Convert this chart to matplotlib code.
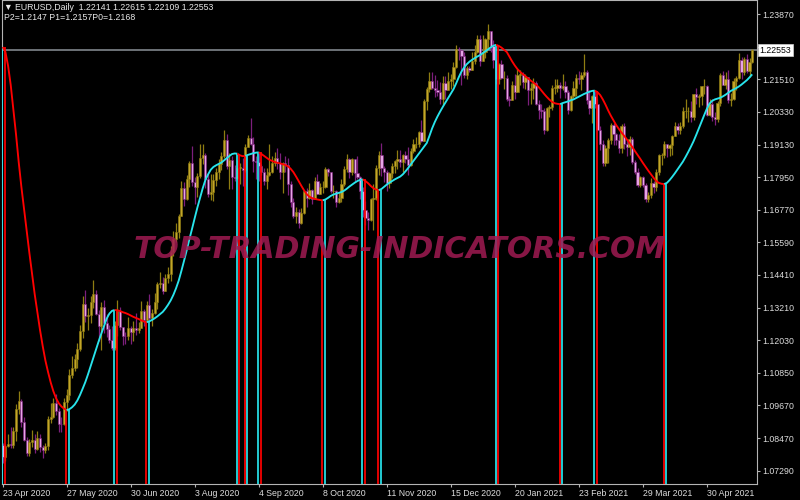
import matplotlib
matplotlib.use("Agg")
import matplotlib.pyplot as plt
import numpy as np
from matplotlib.transforms import blended_transform_factory

plt.rcParams['font.family'] = ['Liberation Sans', 'DejaVu Sans']

# ---------------- data (EURUSD daily, 23 Apr 2020 .. 25 May 2021) ----------------
first_open = 1.0823
closes = [
    1.0781, 1.0820, 1.0827, 1.0822, 1.0873, 1.0955, 1.0981, 1.0908, 1.0841, 1.0795, 1.0834, 1.0840,
    1.0808, 1.0850, 1.0816, 1.0805, 1.0820, 1.0917, 1.0924, 1.0977, 1.0946, 1.0901, 1.0898, 1.0979,
    1.1005, 1.1077, 1.1101, 1.1134, 1.1171, 1.1236, 1.1336, 1.1290, 1.1294, 1.1341, 1.1372, 1.1300,
    1.1256, 1.1325, 1.1264, 1.1244, 1.1204, 1.1176, 1.1258, 1.1309, 1.1251, 1.1220, 1.1219, 1.1246,
    1.1233, 1.1249, 1.1240, 1.1246, 1.1309, 1.1275, 1.1331, 1.1285, 1.1301, 1.1341, 1.1407, 1.1411,
    1.1383, 1.1429, 1.1444, 1.1525, 1.1570, 1.1595, 1.1655, 1.1755, 1.1717, 1.1790, 1.1846, 1.1778,
    1.1761, 1.1800, 1.1864, 1.1877, 1.1787, 1.1735, 1.1740, 1.1785, 1.1814, 1.1841, 1.1870, 1.1930,
    1.1835, 1.1859, 1.1796, 1.1793, 1.1830, 1.1830, 1.1822, 1.1905, 1.1936, 1.1915, 1.1855, 1.1850,
    1.1836, 1.1815, 1.1780, 1.1802, 1.1815, 1.1845, 1.1865, 1.1845, 1.1815, 1.1845, 1.1840, 1.1770,
    1.1705, 1.1655, 1.1670, 1.1630, 1.1665, 1.1745, 1.1720, 1.1750, 1.1715, 1.1780, 1.1735, 1.1760,
    1.1760, 1.1825, 1.1815, 1.1745, 1.1745, 1.1705, 1.1720, 1.1770, 1.1825, 1.1860, 1.1815, 1.1860,
    1.1810, 1.1795, 1.1745, 1.1675, 1.1645, 1.1640, 1.1715, 1.1720, 1.1830, 1.1875, 1.1830, 1.1815,
    1.1775, 1.1810, 1.1835, 1.1855, 1.1860, 1.1850, 1.1875, 1.1860, 1.1840, 1.1890, 1.1915, 1.1915,
    1.1960, 1.1925, 1.2070, 1.2115, 1.2145, 1.2120, 1.2110, 1.2105, 1.2080, 1.2135, 1.2110, 1.2145,
    1.2150, 1.2195, 1.2260, 1.2255, 1.2235, 1.2165, 1.2190, 1.2185, 1.2215, 1.2250, 1.2295, 1.2215,
    1.2250, 1.2295, 1.2325, 1.2270, 1.2220, 1.2150, 1.2205, 1.2155, 1.2155, 1.2080, 1.2075, 1.2130,
    1.2105, 1.2165, 1.2170, 1.2140, 1.2160, 1.2110, 1.2120, 1.2135, 1.2060, 1.2040, 1.2035, 1.1965,
    1.2045, 1.2050, 1.2120, 1.2120, 1.2130, 1.2120, 1.2125, 1.2105, 1.2040, 1.2090, 1.2120, 1.2155,
    1.2150, 1.2165, 1.2175, 1.2075, 1.2045, 1.2090, 1.2060, 1.1965, 1.1915, 1.1845, 1.1900, 1.1930,
    1.1985, 1.1950, 1.1930, 1.1900, 1.1980, 1.1915, 1.1905, 1.1935, 1.1850, 1.1815, 1.1765, 1.1795,
    1.1765, 1.1715, 1.1730, 1.1775, 1.1760, 1.1815, 1.1875, 1.1875, 1.1915, 1.1900, 1.1910, 1.1945,
    1.1980, 1.1965, 1.1980, 1.2035, 1.2035, 1.2035, 1.2015, 1.2095, 1.2085, 1.2090, 1.2125, 1.2125,
    1.2020, 1.2060, 1.2015, 1.2005, 1.2065, 1.2165, 1.2130, 1.2150, 1.2075, 1.2080, 1.2145, 1.2155,
    1.2220, 1.2175, 1.2225, 1.2180, 1.2214, 1.22553]

highs = [
    1.0829, 1.0828, 1.0864, 1.0890, 1.0888, 1.0973, 1.1019, 1.0990, 1.0923, 1.0853, 1.0845, 1.0879,
    1.0862, 1.0873, 1.0864, 1.0822, 1.0829, 1.0929, 1.0976, 1.0994, 1.1007, 1.0959, 1.0925, 1.0994,
    1.1028, 1.1098, 1.1147, 1.1153, 1.1194, 1.1257, 1.1362, 1.1384, 1.1319, 1.1362, 1.1422, 1.1387,
    1.1314, 1.1343, 1.1351, 1.1297, 1.1259, 1.1256, 1.1272, 1.1349, 1.1323, 1.1252, 1.1234, 1.1286,
    1.1255, 1.1274, 1.1302, 1.1268, 1.1346, 1.1315, 1.1344, 1.1371, 1.1318, 1.1375, 1.1413, 1.1452,
    1.1432, 1.1443, 1.1468, 1.1546, 1.1601, 1.1627, 1.1660, 1.1781, 1.1777, 1.1804, 1.1852, 1.1908,
    1.1795, 1.1809, 1.1916, 1.1917, 1.1884, 1.1808, 1.1805, 1.1805, 1.1829, 1.1862, 1.1885, 1.1966,
    1.1951, 1.1883, 1.1871, 1.1840, 1.1859, 1.1846, 1.1866, 1.1916, 1.1947, 1.2011, 1.1939, 1.1873,
    1.1883, 1.1843, 1.1828, 1.1830, 1.1917, 1.1871, 1.1887, 1.1900, 1.1883, 1.1850, 1.1872, 1.1866,
    1.1782, 1.1720, 1.1688, 1.1679, 1.1682, 1.1750, 1.1754, 1.1773, 1.1752, 1.1797, 1.1806, 1.1775,
    1.1781, 1.1831, 1.1829, 1.1815, 1.1765, 1.1750, 1.1740, 1.1790, 1.1837, 1.1880, 1.1865, 1.1866,
    1.1860, 1.1870, 1.1799, 1.1760, 1.1710, 1.1670, 1.1720, 1.1770, 1.1838, 1.1891, 1.1920, 1.1836,
    1.1820, 1.1815, 1.1845, 1.1858, 1.1893, 1.1892, 1.1880, 1.1891, 1.1905, 1.1899, 1.1935, 1.1942,
    1.1964, 1.2003, 1.2077, 1.2122, 1.2176, 1.2177, 1.2167, 1.2149, 1.2139, 1.2163, 1.2162, 1.2176,
    1.2171, 1.2212, 1.2273, 1.2268, 1.2258, 1.2250, 1.2197, 1.2198, 1.2250, 1.2276, 1.2310, 1.2310,
    1.2310, 1.2300, 1.2349, 1.2326, 1.2291, 1.2223, 1.2210, 1.2219, 1.2180, 1.2164, 1.2090, 1.2145,
    1.2170, 1.2189, 1.2183, 1.2176, 1.2169, 1.2160, 1.2137, 1.2155, 1.2143, 1.2074, 1.2059, 1.2045,
    1.2051, 1.2057, 1.2128, 1.2150, 1.2150, 1.2141, 1.2169, 1.2144, 1.2110, 1.2092, 1.2144, 1.2168,
    1.2181, 1.2175, 1.2243, 1.2185, 1.2113, 1.2093, 1.2113, 1.2078, 1.1980, 1.1931, 1.1910, 1.1937,
    1.1990, 1.1990, 1.1957, 1.1951, 1.1989, 1.1990, 1.1935, 1.1943, 1.1940, 1.1857, 1.1829, 1.1800,
    1.1800, 1.1774, 1.1742, 1.1793, 1.1782, 1.1826, 1.1880, 1.1883, 1.1927, 1.1914, 1.1915, 1.1949,
    1.1994, 1.1991, 1.1994, 1.2049, 1.2080, 1.2048, 1.2071, 1.2097, 1.2117, 1.2095, 1.2127, 1.2150,
    1.2130, 1.2077, 1.2077, 1.2030, 1.2070, 1.2172, 1.2181, 1.2178, 1.2183, 1.2101, 1.2154, 1.2161,
    1.2245, 1.2230, 1.2230, 1.2243, 1.2226, 1.22615]

lows = [
    1.0757, 1.0766, 1.0815, 1.0812, 1.0813, 1.0839, 1.0937, 1.0888, 1.0839, 1.0782, 1.0783, 1.0817,
    1.0794, 1.0806, 1.0796, 1.0775, 1.0794, 1.0806, 1.0904, 1.0921, 1.0931, 1.0871, 1.0871, 1.0896,
    1.0945, 1.0985, 1.1068, 1.1090, 1.1103, 1.1165, 1.1212, 1.1270, 1.1240, 1.1267, 1.1322, 1.1294,
    1.1200, 1.1167, 1.1230, 1.1216, 1.1194, 1.1168, 1.1167, 1.1217, 1.1241, 1.1187, 1.1190, 1.1204,
    1.1190, 1.1199, 1.1223, 1.1228, 1.1248, 1.1254, 1.1268, 1.1275, 1.1254, 1.1297, 1.1315, 1.1393,
    1.1371, 1.1389, 1.1410, 1.1420, 1.1508, 1.1558, 1.1576, 1.1655, 1.1692, 1.1711, 1.1761, 1.1763,
    1.1696, 1.1723, 1.1792, 1.1841, 1.1754, 1.1722, 1.1711, 1.1710, 1.1763, 1.1789, 1.1820, 1.1863,
    1.1826, 1.1753, 1.1753, 1.1780, 1.1788, 1.1771, 1.1762, 1.1812, 1.1904, 1.1912, 1.1812, 1.1789,
    1.1781, 1.1801, 1.1766, 1.1753, 1.1798, 1.1810, 1.1836, 1.1824, 1.1789, 1.1737, 1.1812, 1.1730,
    1.1686, 1.1648, 1.1627, 1.1612, 1.1625, 1.1660, 1.1685, 1.1715, 1.1696, 1.1716, 1.1734, 1.1733,
    1.1738, 1.1757, 1.1800, 1.1737, 1.1721, 1.1688, 1.1700, 1.1705, 1.1762, 1.1815, 1.1793, 1.1803,
    1.1782, 1.1790, 1.1716, 1.1650, 1.1622, 1.1603, 1.1636, 1.1602, 1.1712, 1.1802, 1.1800, 1.1777,
    1.1746, 1.1755, 1.1793, 1.1809, 1.1823, 1.1832, 1.1815, 1.1848, 1.1802, 1.1837, 1.1883, 1.1900,
    1.1905, 1.1923, 1.1925, 1.2040, 1.2105, 1.2114, 1.2085, 1.2090, 1.2059, 1.2058, 1.2079, 1.2110,
    1.2114, 1.2125, 1.2190, 1.2220, 1.2129, 1.2153, 1.2152, 1.2175, 1.2185, 1.2207, 1.2244, 1.2197,
    1.2218, 1.2228, 1.2264, 1.2250, 1.2192, 1.2133, 1.2132, 1.2150, 1.2115, 1.2073, 1.2054, 1.2074,
    1.2079, 1.2110, 1.2130, 1.2118, 1.2116, 1.2058, 1.2059, 1.2080, 1.2055, 1.2006, 1.2011, 1.1952,
    1.1962, 1.2015, 1.2039, 1.2098, 1.2104, 1.2084, 1.2110, 1.2081, 1.2023, 1.2035, 1.2081, 1.2091,
    1.2133, 1.2110, 1.2160, 1.2062, 1.2024, 1.1992, 1.2046, 1.1962, 1.1892, 1.1836, 1.1835, 1.1847,
    1.1917, 1.1912, 1.1910, 1.1882, 1.1883, 1.1897, 1.1873, 1.1875, 1.1842, 1.1805, 1.1760, 1.1761,
    1.1760, 1.1704, 1.1704, 1.1719, 1.1737, 1.1743, 1.1803, 1.1838, 1.1865, 1.1869, 1.1870, 1.1876,
    1.1943, 1.1952, 1.1950, 1.1975, 1.2010, 1.1996, 1.1995, 1.2001, 1.2060, 1.2048, 1.2055, 1.2097,
    1.2016, 1.2016, 1.1999, 1.1985, 1.1995, 1.2052, 1.2129, 1.2115, 1.2063, 1.2052, 1.2075, 1.2113,
    1.2151, 1.2152, 1.2164, 1.2172, 1.2160, 1.22109]

# smoothed moving-average indicator line
ma = [
    1.2267, 1.2250, 1.2200, 1.2130, 1.2040, 1.1950, 1.1850, 1.1760, 1.1680, 1.1600, 1.1520, 1.1445,
    1.1370, 1.1305, 1.1240, 1.1182, 1.1130, 1.1088, 1.1050, 1.1018, 1.0993, 1.0975, 1.0963, 1.0955,
    1.0950, 1.0953, 1.0960, 1.0970, 1.0985, 1.1005, 1.1028, 1.1052, 1.1080, 1.1110, 1.1140, 1.1170,
    1.1200, 1.1228, 1.1255, 1.1282, 1.1300, 1.1310, 1.1313, 1.1312, 1.1309, 1.1305, 1.1302, 1.1298,
    1.1293, 1.1288, 1.1284, 1.1280, 1.1275, 1.1271, 1.1269, 1.1272, 1.1277, 1.1283, 1.1290, 1.1298,
    1.1306, 1.1318, 1.1332, 1.1348, 1.1368, 1.1392, 1.1420, 1.1455, 1.1492, 1.1530, 1.1570, 1.1608,
    1.1647, 1.1685, 1.1720, 1.1755, 1.1785, 1.1805, 1.1822, 1.1832, 1.1838, 1.1843, 1.1848, 1.1856,
    1.1864, 1.1872, 1.1879, 1.1881, 1.1880, 1.1874, 1.1871, 1.1872, 1.1876, 1.1879, 1.1882, 1.1884,
    1.1885, 1.1879, 1.1872, 1.1865, 1.1858, 1.1854, 1.1850, 1.1847, 1.1845, 1.1842, 1.1839, 1.1834,
    1.1825, 1.1813, 1.1797, 1.1780, 1.1763, 1.1747, 1.1733, 1.1724, 1.1719, 1.1716, 1.1714, 1.1712,
    1.1711, 1.1714, 1.1720, 1.1727, 1.1732, 1.1735, 1.1738, 1.1741, 1.1746, 1.1753, 1.1761, 1.1768,
    1.1775, 1.1781, 1.1785, 1.1787, 1.1781, 1.1773, 1.1763, 1.1755, 1.1750, 1.1748, 1.1752, 1.1760,
    1.1768, 1.1775, 1.1781, 1.1787, 1.1792, 1.1797, 1.1805, 1.1816, 1.1828, 1.1841, 1.1854, 1.1867,
    1.1880, 1.1893, 1.1906, 1.1919, 1.1945, 1.1972, 1.1995, 1.2015, 1.2033, 1.2050, 1.2066, 1.2082,
    1.2098, 1.2114, 1.2135, 1.2158, 1.2178, 1.2193, 1.2205, 1.2214, 1.2221, 1.2227, 1.2233, 1.2238,
    1.2245, 1.2252, 1.2259, 1.2266, 1.2272, 1.2275, 1.2271, 1.2265, 1.2257, 1.2249, 1.2232, 1.2215,
    1.2200, 1.2187, 1.2177, 1.2169, 1.2161, 1.2153, 1.2145, 1.2138, 1.2130, 1.2121, 1.2109, 1.2097,
    1.2086, 1.2076, 1.2068, 1.2063, 1.2061, 1.2060, 1.2064, 1.2067, 1.2070, 1.2074, 1.2077, 1.2082,
    1.2087, 1.2092, 1.2097, 1.2101, 1.2105, 1.2108, 1.2109, 1.2103, 1.2093, 1.2077, 1.2058, 1.2037,
    1.2018, 1.2001, 1.1984, 1.1970, 1.1957, 1.1945, 1.1932, 1.1919, 1.1905, 1.1890, 1.1876, 1.1862,
    1.1847, 1.1833, 1.1819, 1.1806, 1.1793, 1.1781, 1.1774, 1.1771, 1.1770, 1.1774, 1.1784, 1.1796,
    1.1809, 1.1823, 1.1837, 1.1851, 1.1868, 1.1886, 1.1905, 1.1925, 1.1948, 1.1972, 1.1996, 1.2020,
    1.2043, 1.2062, 1.2072, 1.2077, 1.2080, 1.2083, 1.2088, 1.2094, 1.2101, 1.2108, 1.2113, 1.2118,
    1.2124, 1.2131, 1.2139, 1.2147, 1.2157, 1.2168]

# bars where the indicator changes direction (first segment falls)
turns = [0, 24, 42, 54, 88, 91, 96, 120, 135, 141, 185, 209, 222, 248]

price_ticks = [1.23870, 1.22690, 1.21510, 1.20330, 1.19130, 1.17950, 1.16770, 1.15590,
               1.14410, 1.13210, 1.12030, 1.10850, 1.09670, 1.08470, 1.07290]
date_labels = ["23 Apr 2020", "27 May 2020", "30 Jun 2020", "3 Aug 2020", "4 Sep 2020",
               "8 Oct 2020", "11 Nov 2020", "15 Dec 2020", "20 Jan 2021", "23 Feb 2021",
               "29 Mar 2021", "30 Apr 2021"]
label_step = 24
last_price = 1.22553
header1 = "\u25BC EURUSD,Daily  1.22141 1.22615 1.22109 1.22553"
header2 = "P2=1.2147 P1=1.2157P0=1.2168"
watermark = "TOP-TRADING-INDICATORS.COM"

# ---------------- drawing ----------------
W, H = 800, 500
fig = plt.figure(figsize=(W / 100, H / 100), dpi=100, facecolor='black')
ax = fig.add_axes([1.5 / W, 16 / H, 755.5 / W, 484 / H], facecolor='black')

c = np.array(closes)
o = np.array([first_open] + closes[:-1])
hi = np.maximum(np.array(highs), np.maximum(o, c))
lo = np.minimum(np.array(lows), np.minimum(o, c))
x = np.arange(len(c))
bull = c >= o

BULL_EDGE, BULL_FILL = '#8f7d12', '#c4a628'
BEAR_EDGE, BEAR_FILL = '#7c1f7c', '#e6a4e6'
RED, CYAN = '#ff0000', '#28e4ec'

ylo, yhi = 1.06816, 1.24378
ax.set_xlim(-0.45, 282.8)
ax.set_ylim(ylo, yhi)

ax.axhline(last_price, color='#80868c', lw=1.2, zorder=1)

ax.vlines(x, lo, hi, colors=np.where(bull, BULL_EDGE, BEAR_EDGE), lw=0.9, zorder=2)
body_h = np.maximum(np.abs(c - o), 0.00008)
ax.bar(x, body_h, bottom=np.minimum(o, c), width=0.8,
       color=np.where(bull, BULL_FILL, BEAR_FILL),
       edgecolor=np.where(bull, BULL_EDGE, BEAR_EDGE), linewidth=0.4, zorder=3)

ma_arr = np.array(ma)
bounds = turns + [len(ma) - 1]
for k in range(len(turns)):
    a, b = bounds[k], bounds[k + 1]
    col = RED if k % 2 == 0 else CYAN
    old = CYAN if k % 2 == 0 else RED
    ax.plot(x[a:b + 1], ma_arr[a:b + 1], color=col, lw=1.35, zorder=5,
            solid_capstyle='butt')
    t = turns[k]
    ax.vlines(t - 0.15, ylo, ma_arr[t], colors=old, lw=1.25, zorder=4)
    ax.vlines(t + 0.75, ylo, ma_arr[t], colors=col, lw=1.25, zorder=4)

for s in ax.spines.values():
    s.set_color('#b4b4b4')
    s.set_linewidth(0.8)

ax.yaxis.tick_right()
ax.set_yticks(price_ticks)
# the 1.22690 label sits under the current-price box, as in the original
ax.set_yticklabels(["" if abs(v - 1.22690) < 1e-6 else f"{v:.5f}" for v in price_ticks])
ax.tick_params(axis='y', colors='#b4b4b4', labelcolor='#dcdcdc', length=2.5,
               width=0.8, pad=1.5, labelsize=6.3)
ax.set_xticks(np.arange(len(date_labels)) * label_step)
ax.set_xticklabels(date_labels)
ax.tick_params(axis='x', colors='#b4b4b4', labelcolor='#dcdcdc', length=2.5,
               width=0.8, pad=1.0, labelsize=6.3)
for lbl in ax.get_xticklabels():
    lbl.set_ha('left')

tr = blended_transform_factory(ax.transAxes, ax.transData)
ax.text(1.0 + 2.5 / 755.5, last_price, f"{last_price:.5f}", transform=tr,
        fontsize=6.3, color='black', va='center', ha='left', zorder=20, clip_on=False,
        bbox=dict(boxstyle='square,pad=0.18', fc='white', ec='#d0d0d0', lw=0.5))

fig.text(4 / W, 1 - 8 / H, header1, color='#e8e8e8', fontsize=6.3, va='center', ha='left')
fig.text(4 / W, 1 - 18 / H, header2, color='#e8e8e8', fontsize=6.3, va='center', ha='left')

fig.text(400 / W, 1 - 249 / H, watermark, fontsize=21.5, fontweight='bold',
         fontstyle='italic', family='DejaVu Sans', color='#a01a52', alpha=0.85,
         ha='center', va='center', zorder=10)

fig.savefig('out.png', dpi=100, facecolor='black')
